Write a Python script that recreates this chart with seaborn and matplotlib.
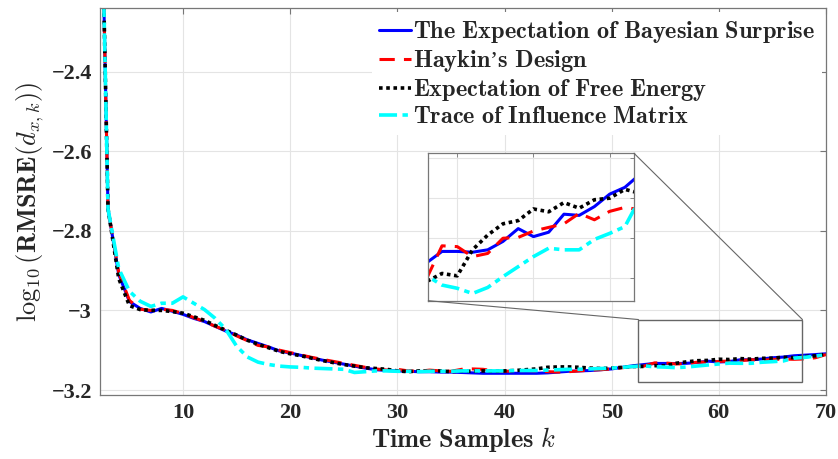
import matplotlib
matplotlib.use("Agg")
import matplotlib.pyplot as plt
import seaborn as sns
from matplotlib.patches import Rectangle, ConnectionPatch

# Time samples
k = list(range(2, 71))

# log10 RMSRE of the state estimate for each design criterion
bayes_surprise = [
    -1.42, -2.745, -2.910, -2.978, -2.995, -3.004, -2.995, -3.002, -3.010, -3.020,
    -3.028, -3.040, -3.052, -3.062, -3.074, -3.083, -3.092, -3.102, -3.107, -3.113,
    -3.119, -3.125, -3.130, -3.135, -3.140, -3.145, -3.149, -3.151, -3.152, -3.153,
    -3.154, -3.154, -3.155, -3.155, -3.156, -3.157, -3.158, -3.158, -3.158, -3.158,
    -3.158, -3.158, -3.157, -3.155, -3.153, -3.152, -3.151, -3.149, -3.147, -3.143,
    -3.139, -3.1361, -3.1333, -3.1333, -3.1335, -3.1329, -3.1308, -3.1276, -3.1296, -3.1285,
    -3.1240, -3.1243, -3.1221, -3.1190, -3.1173, -3.1140, -3.1125, -3.1110, -3.1090,
]
haykin = [
    -1.42, -2.745, -2.905, -2.975, -2.997, -3.000, -2.997, -3.000, -3.008, -3.018,
    -3.028, -3.040, -3.050, -3.064, -3.076, -3.088, -3.092, -3.100, -3.106, -3.112,
    -3.118, -3.123, -3.128, -3.133, -3.138, -3.143, -3.147, -3.150, -3.148, -3.152,
    -3.153, -3.150, -3.152, -3.153, -3.148, -3.147, -3.148, -3.152, -3.153, -3.152,
    -3.151, -3.152, -3.154, -3.155, -3.154, -3.152, -3.150, -3.149, -3.147, -3.144,
    -3.141, -3.1400, -3.1319, -3.1321, -3.1346, -3.1338, -3.1300, -3.1298, -3.1282, -3.1273,
    -3.1264, -3.1238, -3.1254, -3.1233, -3.1223, -3.1229, -3.1220, -3.1190, -3.1110,
]
free_energy = [
    -1.42, -2.745, -2.920, -2.988, -2.998, -3.000, -3.000, -3.003, -3.007, -3.016,
    -3.025, -3.038, -3.050, -3.062, -3.075, -3.085, -3.094, -3.103, -3.109, -3.114,
    -3.120, -3.126, -3.131, -3.136, -3.140, -3.144, -3.146, -3.148, -3.152, -3.154,
    -3.152, -3.153, -3.152, -3.154, -3.152, -3.153, -3.152, -3.153, -3.152, -3.151,
    -3.149, -3.147, -3.143, -3.142, -3.142, -3.143, -3.145, -3.146, -3.145, -3.143,
    -3.141, -3.1408, -3.1388, -3.1394, -3.1329, -3.1292, -3.1264, -3.1256, -3.1227, -3.1234,
    -3.1211, -3.1225, -3.1204, -3.1200, -3.1178, -3.1188, -3.1160, -3.1140, -3.1100,
]
influence_trace = [
    -1.42, -2.745, -2.895, -2.952, -2.977, -2.990, -2.982, -2.982, -2.966, -2.982,
    -2.998, -3.020, -3.048, -3.090, -3.117, -3.130, -3.136, -3.140, -3.142, -3.143,
    -3.145, -3.146, -3.147, -3.148, -3.156, -3.154, -3.152, -3.152, -3.153, -3.153,
    -3.154, -3.153, -3.153, -3.153, -3.152, -3.152, -3.152, -3.152, -3.152, -3.151,
    -3.151, -3.151, -3.150, -3.149, -3.148, -3.148, -3.147, -3.146, -3.145, -3.143,
    -3.141, -3.1394, -3.1417, -3.1425, -3.1438, -3.1423, -3.1396, -3.1371, -3.1346, -3.1325,
    -3.1329, -3.1329, -3.1303, -3.1288, -3.1271, -3.1200, -3.1180, -3.1150, -3.1110,
]

series_labels = [
    r"$\mathbf{The\ Expectation\ of\ Bayesian\ Surprise}$",
    r"$\mathbf{Haykin}$" + "\u2019" + r"$\mathbf{s\ Design}$",
    r"$\mathbf{Expectation\ of\ Free\ Energy}$",
    r"$\mathbf{Trace\ of\ Influence\ Matrix}$",
]
series_values = [bayes_surprise, haykin, free_energy, influence_trace]
series_colors = ["#0000ff", "#ff0000", "#000000", "#00ffff"]
series_styles = ["-", (0, (5, 3)), (0, (1, 1)), (0, (5, 1.5, 1.5, 1.5))]
series_widths = [2.2, 2.2, 2.6, 2.6]

x_ticks = [10, 20, 30, 40, 50, 60, 70]
y_ticks = [-3.2, -3.0, -2.8, -2.6, -2.4]
y_tick_labels = ["\u22123.2", "\u22123", "\u22122.8", "\u22122.6", "\u22122.4"]

x_limits = (2.28, 70)
y_limits = (-3.2126, -2.241)

# magnified region
zoom_x = (52.5, 67.8)
zoom_y = (-3.181, -3.023)
inset_x = (53.1, 66.6)
inset_y = (-3.1456, -3.1088)
inset_x_ticks = [55, 60, 65]
inset_y_ticks = [-3.14, -3.13, -3.12, -3.11]

sns.set_theme(style="white")
plt.rcParams["mathtext.fontset"] = "cm"
plt.rcParams["font.family"] = ["Liberation Serif", "DejaVu Serif"]
plt.rcParams["axes.unicode_minus"] = True

frame_color = "#777777"
grid_color = "#e4e4e4"

fig = plt.figure(figsize=(8.38, 4.59), dpi=100)
ax = fig.add_axes([0.1197, 0.1394, 0.8660, 0.8425])

for vals, lab, col, ls, lw in zip(series_values, series_labels, series_colors,
                                  series_styles, series_widths):
    sns.lineplot(x=k, y=vals, ax=ax, color=col, linestyle=ls, linewidth=lw,
                 label=lab, legend=False)

ax.set_xlim(*x_limits)
ax.set_ylim(*y_limits)
ax.set_xticks(x_ticks)
ax.set_xticklabels([str(t) for t in x_ticks], fontsize=16, fontweight="bold")
ax.set_yticks(y_ticks)
ax.set_yticklabels(y_tick_labels, fontsize=16, fontweight="bold")
ax.tick_params(axis="x", pad=6)
ax.tick_params(axis="y", pad=6)
ax.tick_params(direction="in", top=True, right=True, length=4, width=0.8,
               color=frame_color)
ax.grid(True, color=grid_color, linewidth=0.8)
ax.set_axisbelow(True)
for sp in ax.spines.values():
    sp.set_color(frame_color)
    sp.set_linewidth(0.9)

ax.set_xlabel(r"$\mathbf{Time\ Samples}\ k$", fontsize=19, labelpad=1)
ax.set_ylabel(r"$\log_{10}(\mathbf{RMSRE}(d_{x,k}))$", fontsize=19, labelpad=4)

leg = ax.legend(loc="upper right", fontsize=17.5, frameon=True, fancybox=False,
                framealpha=1.0, edgecolor="none", facecolor="white",
                handlelength=1.3, handletextpad=0.1, labelspacing=0.12,
                borderaxespad=0.15, borderpad=0.3)

# box around the magnified region
ax.add_patch(Rectangle((zoom_x[0], zoom_y[0]), zoom_x[1] - zoom_x[0],
                       zoom_y[1] - zoom_y[0], fill=False,
                       edgecolor="#666666", linewidth=1.0, zorder=5))

# inset with the magnified curves
axin = fig.add_axes([0.5111, 0.3449, 0.2455, 0.3211])
axin.set_facecolor("white")
for vals, col, ls, lw in zip(series_values, series_colors, series_styles, series_widths):
    sns.lineplot(x=k, y=vals, ax=axin, color=col, linestyle=ls, linewidth=lw,
                 legend=False)
axin.set_xlim(*inset_x)
axin.set_ylim(*inset_y)
axin.set_xticks(inset_x_ticks)
axin.set_yticks(inset_y_ticks)
axin.set_xticklabels([])
axin.set_yticklabels([])
axin.set_xlabel("")
axin.set_ylabel("")
axin.tick_params(direction="in", top=True, right=True, length=3, width=0.6,
                 color=frame_color)
axin.grid(True, color=grid_color, linewidth=0.8)
axin.set_axisbelow(True)
for sp in axin.spines.values():
    sp.set_color(frame_color)
    sp.set_linewidth(0.9)

# connectors between the inset and the boxed region
for corner, target in [((1, 1), (zoom_x[1], zoom_y[1])), ((0, 0), (zoom_x[0], zoom_y[1]))]:
    con = ConnectionPatch(xyA=corner, coordsA=axin.transAxes,
                          xyB=target, coordsB=ax.transData,
                          color="#666666", linewidth=0.8)
    fig.add_artist(con)

fig.savefig("out.png", dpi=100)
